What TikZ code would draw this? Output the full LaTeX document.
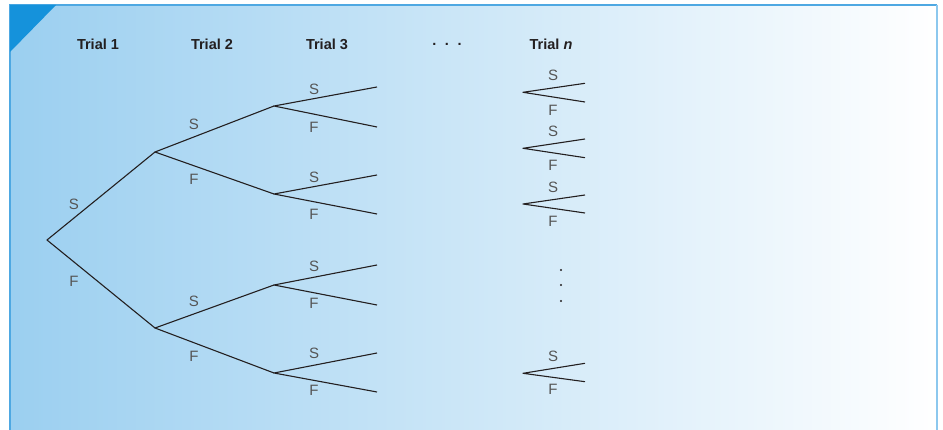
\documentclass[tikz,border=0pt]{standalone}
\usepackage{fontspec}
\setmainfont{Liberation Sans}
\definecolor{bgleft}{HTML}{9BCFF0}
\definecolor{corner}{HTML}{1592DB}
\definecolor{frameblue}{HTML}{4EA8E2}
\definecolor{frameright}{HTML}{8CC8EE}
\definecolor{lbl}{HTML}{555555}
\definecolor{ink}{HTML}{231F20}
\begin{document}
\begin{tikzpicture}[x=1pt,y=-1pt,
  hdr/.style={font=\fontsize{14.5}{16}\selectfont\bfseries, text=ink, inner sep=0pt},
  lab/.style={font=\fontsize{15}{17}\selectfont, text=lbl, inner sep=0pt},
  br/.style={draw=ink, line width=1.1pt, line join=round},
  dotn/.style={circle, fill=ink, inner sep=0pt, minimum size=2.2pt}]
\useasboundingbox (0,0) rectangle (943,430);
% background
\shade[left color=bgleft, right color=white] (10,5) rectangle (937,430);
\draw[frameblue, line width=1.5pt] (10,430) -- (10,5) -- (937,5);
\draw[frameright, line width=1.5pt] (937,5) -- (937,430);
\fill[corner] (10,5) -- (56,5) -- (10,52) -- cycle;
% headers
\node[hdr] (h1) at (98,44) {Trial 1};
\node[hdr] (h2) at (212,44) {Trial 2};
\node[hdr] (h3) at (327,44) {Trial 3};
\node[hdr] (hd) at (447,44) {.\hspace{0.6em}.\hspace{0.6em}.};
\node[hdr] (hn) at (551,44) {Trial \textit{n}};
% tree points
\coordinate (r) at (47,240);
\coordinate (a) at (155,152);
\coordinate (b) at (155,328);
\coordinate (aa) at (274,106);
\coordinate (ab) at (274,194);
\coordinate (ba) at (274,285);
\coordinate (bb) at (274,373);
\coordinate (aa1) at (377,87);  \coordinate (aa2) at (377,127);
\coordinate (ab1) at (377,175); \coordinate (ab2) at (377,214);
\coordinate (ba1) at (377,265); \coordinate (ba2) at (377,305);
\coordinate (bb1) at (377,353); \coordinate (bb2) at (377,392);
\draw[br] (a) -- (r) -- (b);
\draw[br] (aa) -- (a) -- (ab);
\draw[br] (ba) -- (b) -- (bb);
\draw[br] (aa1) -- (aa) -- (aa2);
\draw[br] (ab1) -- (ab) -- (ab2);
\draw[br] (ba1) -- (ba) -- (ba2);
\draw[br] (bb1) -- (bb) -- (bb2);
% labels
\node[lab] (l1s) at (74,204) {S};
\node[lab] (l1f) at (74,281) {F};
\node[lab] (l2s) at (194,124) {S};
\node[lab] (l2f) at (194,179) {F};
\node[lab] (l3s) at (194,301) {S};
\node[lab] (l3f) at (194,356) {F};
\node[lab] (m1s) at (314,89) {S};
\node[lab] (m1f) at (314,127) {F};
\node[lab] (m2s) at (314,177) {S};
\node[lab] (m2f) at (314,214) {F};
\node[lab] (m3s) at (314,266) {S};
\node[lab] (m3f) at (314,303) {F};
\node[lab] (m4s) at (314,353) {S};
\node[lab] (m4f) at (314,390) {F};
% trial n wedges
\foreach \i/\v/\u/\d/\s/\f in {1/92.3/83.3/102/75.7/110, 2/148.3/139/157.7/131.7/165, 3/204/195/213/187.7/221, 4/373.3/363.3/381.7/356/389.3}{
  \coordinate (n\i) at (523,\v);
  \coordinate (n\i u) at (585,\u);
  \coordinate (n\i d) at (585,\d);
  \draw[br] (n\i u) -- (n\i) -- (n\i d);
  \node[lab] (n\i s) at (553,\s) {S};
  \node[lab] (n\i f) at (553,\f) {F};
}
\node[dotn] (d1) at (561,270) {};
\node[dotn] (d2) at (561,285) {};
\node[dotn] (d3) at (561,301) {};
\end{tikzpicture}
\end{document}
